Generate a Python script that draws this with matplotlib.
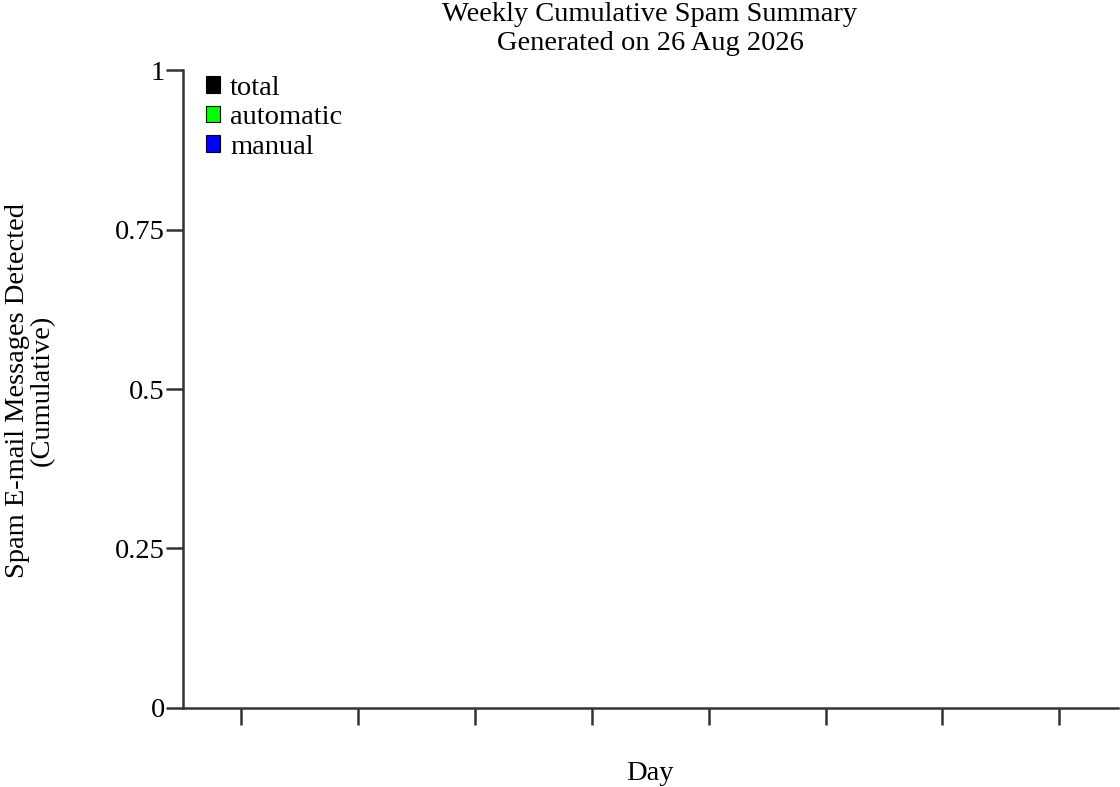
import matplotlib.pyplot as plt
from matplotlib.patches import Patch

# Chart data: no spam detected in the week, so the series are empty
days = ['', '', '', '', '', '', '', '']
series_names = ['total', 'automatic', 'manual']
series_colors = ['#000000', '#00ff00', '#0000ff']
total = []
automatic = []
manual = []
y_ticks = [0, 0.25, 0.5, 0.75, 1]
y_tick_labels = ['0', '0.25', '0.5', '0.75', '1']

plt.rcParams['font.family'] = ['Liberation Serif', 'DejaVu Serif']
fs = 20.5

fig = plt.figure(figsize=(11.2, 7.87), dpi=100)
ax = fig.add_axes([0.1634, 0.1004, 0.8346, 0.8106])

for vals, col in zip([total, automatic, manual], series_colors):
    ax.plot(range(len(vals)), vals, color=col)

ax.set_xlim(-0.5, len(days) - 0.5)
ax.set_ylim(0, 1)
ax.set_xticks(range(len(days)))
ax.set_xticklabels(days)
ax.set_yticks(y_ticks)
ax.set_yticklabels(y_tick_labels, fontsize=fs)

for s in ['top', 'right']:
    ax.spines[s].set_visible(False)
for s in ['left', 'bottom']:
    ax.spines[s].set_color('#333333')
    ax.spines[s].set_linewidth(1.8)
ax.tick_params(axis='x', length=12, width=1.8, color='#333333', direction='out')
ax.tick_params(axis='y', length=12, width=1.8, color='#333333', direction='out', pad=1)

fig.text(0.5804, 0.997, 'Weekly Cumulative Spam Summary\nGenerated on 26 Aug 2026',
         ha='center', va='top', fontsize=fs, linespacing=1.17)
fig.text(0.5804, 0.017, 'Day', ha='center', va='center', fontsize=fs)
fig.text(0.027, 0.504, 'Spam E-mail Messages Detected\n(Cumulative)', rotation=90,
         ha='center', va='center', fontsize=fs, linespacing=1.0)

handles = [Patch(facecolor=c, edgecolor='black', linewidth=0.8) for c in series_colors]
ax.legend(handles, series_names, loc='upper left', bbox_to_anchor=(0.0, 1.027),
          frameon=False, fontsize=fs, handlelength=0.5, handleheight=0.5,
          handletextpad=0.35, labelspacing=0.16, borderpad=0.3)

fig.savefig('out.png', dpi=100)
